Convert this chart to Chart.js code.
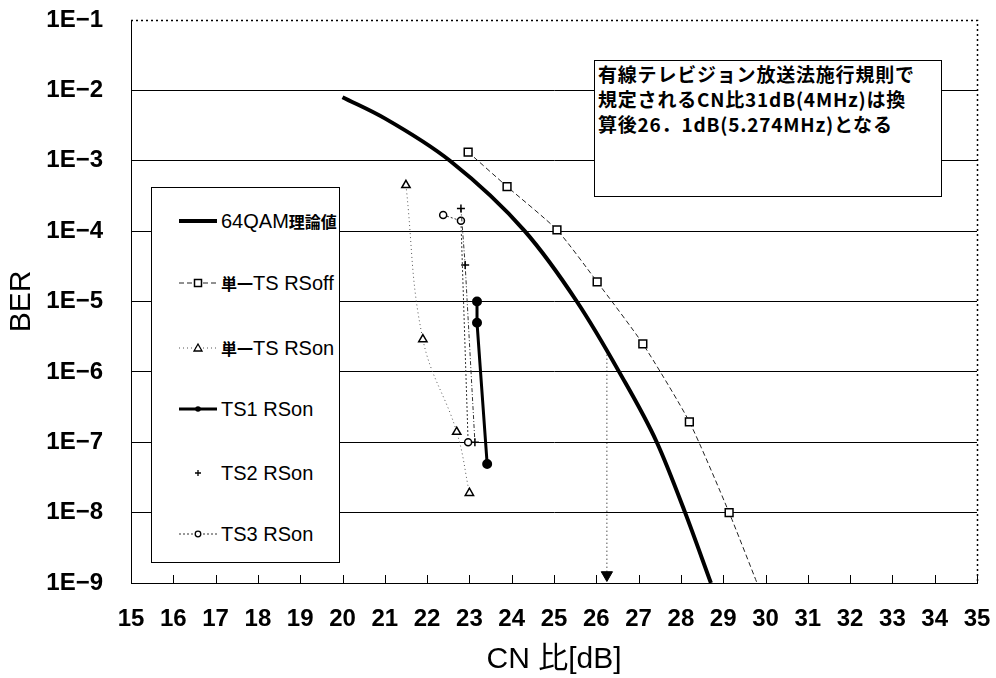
<!DOCTYPE html>
<html>
<head>
<meta charset="utf-8">
<script src="https://cdn.jsdelivr.net/npm/chart.js@4"></script>
<style>
  html, body { margin: 0; padding: 0; background: #fff; }
  #wrap { position: relative; width: 996px; height: 678px; }
  #legend {
    position: absolute; left: 151px; top: 187px; width: 189px; height: 376px;
    border: 1px solid #000; background: #fff; box-sizing: border-box;
    font-family: "Liberation Sans", "Noto Sans CJK JP", sans-serif; font-size: 20px;
  }
  .row { position: absolute; left: 0; height: 24px; display: flex; align-items: center; white-space: nowrap; }
  .row svg { margin-left: 26px; margin-right: 3px; }
  .cjk { font-family: "Noto Sans CJK JP", sans-serif; font-size: 16px; font-weight: bold; }
  #note {
    position: absolute; left: 594px; top: 60px; width: 348px; height: 137px;
    border: 1px solid #000; background: #fff; box-sizing: border-box;
    padding: 0 0 0 3px;
    font-family: "Noto Sans CJK JP", sans-serif; font-size: 19px; font-weight: bold; line-height: 25px;
    letter-spacing: 0.8px; white-space: nowrap;
  }
</style>
</head>
<body>
<div id="wrap">
  <canvas id="chart" width="996" height="678"></canvas>
  <div id="legend"></div>
  <div id="note">有線テレビジョン放送法施行規則で<br>規定されるCN比31dB(4MHz)は換<br>算後26．1dB(5.274MHz)となる</div>
</div>
<script>
// values: CN ratio [dB] and BER
const xTicks = [15, 16, 17, 18, 19, 20, 21, 22, 23, 24, 25, 26, 27, 28, 29, 30, 31, 32, 33, 34, 35];
const yTicks = [1e-9, 1e-8, 1e-7, 1e-6, 1e-5, 1e-4, 1e-3, 1e-2, 1e-1];

const cnTheory = [20, 21, 22.54, 24.31, 25.54, 26.54, 27.43, 28.1, 28.71];
const berTheory = [8e-3, 4e-3, 1e-3, 1e-4, 1e-5, 1e-6, 1e-7, 1e-8, 1e-9];

const cnSingleOff = [22.97, 23.89, 25.07, 26.02, 27.1, 28.2, 29.14, 29.8];
const berSingleOff = [1.33e-3, 4.3e-4, 1.04e-4, 1.9e-5, 2.5e-6, 1.95e-7, 1.0e-8, 1e-9];

const cnSingleOn = [21.5, 21.9, 22.7, 23.0];
const berSingleOn = [4.5e-4, 2.9e-6, 1.4e-7, 1.9e-8];

const cnTs1 = [23.18, 23.18, 23.42];
const berTs1 = [1e-5, 5e-6, 4.9e-8];

const cnTs2 = [22.8, 22.9, 23.13];
const berTs2 = [2.1e-4, 3.3e-5, 1e-7];

const cnTs3 = [22.38, 22.8, 22.97];
const berTs3 = [1.7e-4, 1.4e-4, 1e-7];

// 26.1dB marker arrow
const cnArrow = [26.25, 26.25];
const berArrow = [2e-6, 1.3e-9];

const pts = (xs, ys) => xs.map((x, i) => ({ x: x, y: ys[i] }));

const datasets = [
  {
    label: '64QAM理論値', data: pts(cnTheory, berTheory),
    borderColor: '#000', borderWidth: 4, pointRadius: 0,
    cubicInterpolationMode: 'monotone', legendLine: true, legendMarker: null
  },
  {
    label: '単一TS RSoff', data: pts(cnSingleOff, berSingleOff),
    borderColor: '#222', borderWidth: 1, borderDash: [5, 3], tension: 0.2,
    pointStyle: 'rect', pointRadius: cnSingleOff.map((v, i) => i === cnSingleOff.length - 1 ? 0 : 5.5),
    pointBackgroundColor: '#fff', pointBorderColor: '#000', pointBorderWidth: 1.5,
    legendLine: true, legendMarker: 'rect'
  },
  {
    label: '単一TS RSon', data: pts(cnSingleOn, berSingleOn),
    borderColor: '#555', borderWidth: 1, borderDash: [1, 3], tension: 0.4,
    pointStyle: 'triangle', pointRadius: 4.8,
    pointBackgroundColor: '#fff', pointBorderColor: '#000', pointBorderWidth: 1.5,
    legendLine: true, legendMarker: 'triangle'
  },
  {
    label: 'TS1 RSon', data: pts(cnTs1, berTs1),
    borderColor: '#000', borderWidth: 3, tension: 0,
    pointStyle: 'circle', pointRadius: 3.5,
    pointBackgroundColor: '#000', pointBorderColor: '#000',
    legendLine: true, legendMarker: 'dot'
  },
  {
    label: 'TS2 RSon', data: pts(cnTs2, berTs2),
    borderColor: '#333', borderWidth: 1, borderDash: [4, 2, 1, 2], tension: 0,
    pointStyle: 'cross', pointRadius: 4, pointBorderColor: '#000', pointBorderWidth: 1.5,
    legendLine: false, legendMarker: 'cross'
  },
  {
    label: 'TS3 RSon', data: pts(cnTs3, berTs3),
    borderColor: '#333', borderWidth: 1, borderDash: [2, 2], tension: 0,
    pointStyle: 'circle', pointRadius: 3.5,
    pointBackgroundColor: '#fff', pointBorderColor: '#000', pointBorderWidth: 1.5,
    legendLine: true, legendMarker: 'circle'
  },
  {
    label: 'arrow', data: pts(cnArrow, berArrow),
    borderColor: '#000', borderWidth: 1, borderDash: [1, 3],
    pointStyle: 'triangle', pointRotation: 180, pointRadius: [0, 6.5],
    pointBackgroundColor: '#000', pointBorderColor: '#000', hideInLegend: true
  }
];

// dotted top/right frame and the small inward ticks on the x axis
const frame = {
  id: 'frame',
  afterDraw(chart) {
    const { ctx, chartArea: a, scales } = chart;
    ctx.save();
    ctx.strokeStyle = '#000';
    ctx.lineWidth = 1.5;
    ctx.setLineDash([2, 3]);
    ctx.beginPath();
    ctx.moveTo(a.left, a.top + 0.5);
    ctx.lineTo(a.right + 0.5, a.top + 0.5);
    ctx.lineTo(a.right + 0.5, a.bottom);
    ctx.stroke();
    ctx.setLineDash([]);
    ctx.lineWidth = 1;
    ctx.beginPath();
    scales.x.ticks.forEach(t => {
      const px = Math.round(scales.x.getPixelForValue(t.value)) + 0.5;
      ctx.moveTo(px, a.bottom);
      ctx.lineTo(px, a.bottom - 8);
    });
    ctx.stroke();
    ctx.restore();
  }
};

const tickFont = { family: '"Liberation Sans", "Noto Sans CJK JP", sans-serif', size: 24, weight: 'bold' };
const titleFont = { family: '"Liberation Sans", "Noto Sans CJK JP", sans-serif', size: 30 };

const chart = new Chart(document.getElementById('chart'), {
  type: 'scatter',
  data: { datasets: datasets.map(d => Object.assign({ showLine: true, fill: false }, d)) },
  options: {
    responsive: false,
    animation: false,
    devicePixelRatio: 1,
    layout: { padding: { top: 20, right: 19, left: 0, bottom: 0 } },
    plugins: { legend: { display: false }, tooltip: { enabled: false } },
    scales: {
      x: {
        type: 'linear', min: 15, max: 35,
        afterFit: s => { s.height = 95; s.paddingLeft = 0; s.paddingRight = 0; },
        afterBuildTicks: s => { s.ticks = xTicks.map(v => ({ value: v })); },
        grid: { display: false, drawTicks: false },
        border: { display: true, color: '#000', width: 1 },
        ticks: { color: '#000', font: tickFont, padding: 22, maxRotation: 0, autoSkip: false },
        title: { display: true, text: 'CN 比[dB]', color: '#000', font: titleFont, padding: { top: 0, bottom: 0 } }
      },
      y: {
        type: 'logarithmic', min: 1e-9, max: 1e-1,
        afterFit: s => { s.width = 131; s.paddingTop = 0; s.paddingBottom = 0; },
        afterBuildTicks: s => { s.ticks = yTicks.map(v => ({ value: v })); },
        grid: {
          drawTicks: false, lineWidth: 1,
          color: c => (c.tick && c.tick.value > 0.05) ? 'rgba(0,0,0,0)' : '#000'
        },
        border: { display: true, color: '#000', width: 1 },
        ticks: {
          color: '#000', font: tickFont, padding: 28, autoSkip: false,
          callback: v => '1E' + Math.round(Math.log10(v)).toString().replace('-', '−')
        },
        title: { display: true, text: 'BER', color: '#000', font: titleFont, padding: { top: 4, bottom: 0 } }
      }
    }
  },
  plugins: [frame]
});

// legend box built from the dataset styles
const legendRowsY = [33, 95, 160, 221, 285, 346];
const legend = document.getElementById('legend');
datasets.filter(d => !d.hideInLegend).forEach((d, i) => {
  const row = document.createElement('div');
  row.className = 'row';
  row.style.top = (legendRowsY[i] - 12) + 'px';
  let svg = '<svg width="40" height="16" viewBox="0 0 40 16">';
  if (d.legendLine) {
    const dash = d.borderDash ? ' stroke-dasharray="' + d.borderDash.join(' ') + '"' : '';
    svg += '<line x1="1" y1="8" x2="39" y2="8" stroke="' + d.borderColor + '" stroke-width="' + d.borderWidth + '"' + dash + '/>';
  }
  if (d.legendMarker === 'rect') svg += '<rect x="16.5" y="4.5" width="7" height="7" fill="#fff" stroke="#000" stroke-width="1.5"/>';
  if (d.legendMarker === 'triangle') svg += '<polygon points="20,4 24,11 16,11" fill="#fff" stroke="#000" stroke-width="1.3"/>';
  if (d.legendMarker === 'dot') svg += '<circle cx="20" cy="8" r="2.8" fill="#000"/>';
  if (d.legendMarker === 'circle') svg += '<circle cx="20" cy="8" r="2.8" fill="#fff" stroke="#000" stroke-width="1.3"/>';
  if (d.legendMarker === 'cross') svg += '<path d="M20 5 V11 M17 8 H23" stroke="#000" stroke-width="1.3"/>';
  svg += '</svg>';
  // kanji in the legend are set a bit smaller than the latin part
  const text = d.label.replace(/([^\x00-\x7F]+)/g, '<span class="cjk">$1</span>');
  row.innerHTML = svg + '<span>' + text + '</span>';
  legend.appendChild(row);
});
</script>
</body>
</html>
